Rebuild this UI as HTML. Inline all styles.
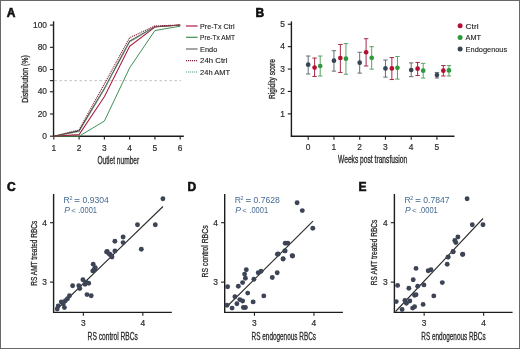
<!DOCTYPE html>
<html><head><meta charset="utf-8"><style>
html,body{margin:0;padding:0;background:#fff;}
body{width:520px;height:349px;overflow:hidden;}
.fig{position:absolute;left:0;top:0;width:520px;height:349px;box-sizing:border-box;border:1px solid #686868;background:#fff;}
svg{position:absolute;left:0;top:0;will-change:transform;}
text{font-family:"Liberation Sans", sans-serif;}
</style></head><body>
<div class="fig"></div>
<svg width="520" height="349" viewBox="0 0 520 349" font-family='"Liberation Sans", sans-serif'>
<text x="6.8" y="17.2" font-size="12" text-anchor="start" fill="#111" font-weight="bold" stroke="#111" stroke-width="0.6">A</text>
<line x1="54.50" y1="80.65" x2="181.00" y2="80.65" stroke="#b0b0b0" stroke-width="0.8" stroke-dasharray="2.4 2.6"/>
<line x1="53.55" y1="21.30" x2="53.55" y2="136.80" stroke="#1c1c1c" stroke-width="1.4" />
<line x1="52.95" y1="136.20" x2="183.80" y2="136.20" stroke="#1c1c1c" stroke-width="1.4" />
<line x1="49.95" y1="136.20" x2="53.55" y2="136.20" stroke="#1c1c1c" stroke-width="1.1" />
<line x1="49.95" y1="113.98" x2="53.55" y2="113.98" stroke="#1c1c1c" stroke-width="1.1" />
<line x1="49.95" y1="91.76" x2="53.55" y2="91.76" stroke="#1c1c1c" stroke-width="1.1" />
<line x1="49.95" y1="80.65" x2="53.55" y2="80.65" stroke="#1c1c1c" stroke-width="1.1" />
<line x1="49.95" y1="69.54" x2="53.55" y2="69.54" stroke="#1c1c1c" stroke-width="1.1" />
<line x1="49.95" y1="47.32" x2="53.55" y2="47.32" stroke="#1c1c1c" stroke-width="1.1" />
<line x1="49.95" y1="25.10" x2="53.55" y2="25.10" stroke="#1c1c1c" stroke-width="1.1" />
<text x="47.0" y="138.79999999999998" font-size="8.4" text-anchor="end" fill="#2e2e2e" stroke="#2a2a2a" stroke-width="0.2">0</text>
<text x="47.0" y="116.57999999999998" font-size="8.4" text-anchor="end" fill="#2e2e2e" stroke="#2a2a2a" stroke-width="0.2">20</text>
<text x="47.0" y="94.35999999999999" font-size="8.4" text-anchor="end" fill="#2e2e2e" stroke="#2a2a2a" stroke-width="0.2">40</text>
<text x="47.0" y="72.13999999999999" font-size="8.4" text-anchor="end" fill="#2e2e2e" stroke="#2a2a2a" stroke-width="0.2">60</text>
<text x="47.0" y="49.919999999999995" font-size="8.4" text-anchor="end" fill="#2e2e2e" stroke="#2a2a2a" stroke-width="0.2">80</text>
<text x="47.0" y="27.699999999999996" font-size="8.4" text-anchor="end" fill="#2e2e2e" stroke="#2a2a2a" stroke-width="0.2">100</text>
<line x1="53.80" y1="136.20" x2="53.80" y2="139.60" stroke="#1c1c1c" stroke-width="1.1" />
<text x="53.8" y="150.7" font-size="8.4" text-anchor="middle" fill="#2e2e2e" stroke="#2a2a2a" stroke-width="0.2">1</text>
<line x1="79.08" y1="136.20" x2="79.08" y2="139.60" stroke="#1c1c1c" stroke-width="1.1" />
<text x="79.08" y="150.7" font-size="8.4" text-anchor="middle" fill="#2e2e2e" stroke="#2a2a2a" stroke-width="0.2">2</text>
<line x1="104.36" y1="136.20" x2="104.36" y2="139.60" stroke="#1c1c1c" stroke-width="1.1" />
<text x="104.36" y="150.7" font-size="8.4" text-anchor="middle" fill="#2e2e2e" stroke="#2a2a2a" stroke-width="0.2">3</text>
<line x1="129.64" y1="136.20" x2="129.64" y2="139.60" stroke="#1c1c1c" stroke-width="1.1" />
<text x="129.64" y="150.7" font-size="8.4" text-anchor="middle" fill="#2e2e2e" stroke="#2a2a2a" stroke-width="0.2">4</text>
<line x1="154.92" y1="136.20" x2="154.92" y2="139.60" stroke="#1c1c1c" stroke-width="1.1" />
<text x="154.92000000000002" y="150.7" font-size="8.4" text-anchor="middle" fill="#2e2e2e" stroke="#2a2a2a" stroke-width="0.2">5</text>
<line x1="180.20" y1="136.20" x2="180.20" y2="139.60" stroke="#1c1c1c" stroke-width="1.1" />
<text x="180.2" y="150.7" font-size="8.4" text-anchor="middle" fill="#2e2e2e" stroke="#2a2a2a" stroke-width="0.2">6</text>
<text x="118.3" y="163.6" font-size="10.2" text-anchor="middle" fill="#2a2a2a" stroke="#2a2a2a" stroke-width="0.3" textLength="41.8" lengthAdjust="spacingAndGlyphs">Outlet number</text>
<text transform="translate(28,79) rotate(-90)" x="0" y="0" font-size="9.0" text-anchor="middle" fill="#2a2a2a" stroke="#2a2a2a" stroke-width="0.3" textLength="47.4" lengthAdjust="spacingAndGlyphs">Distribution (%)</text>
<polyline points="53.80,136.20 79.08,136.20 104.36,121.09 129.64,67.87 154.92,30.54 180.20,26.21" fill="none" stroke="#3f9050" stroke-width="1.0" stroke-linejoin="round" />
<polyline points="53.80,136.20 79.08,134.64 104.36,96.76 129.64,46.21 154.92,27.10 180.20,25.10" fill="none" stroke="#b01c45" stroke-width="1.05" stroke-linejoin="round" />
<polyline points="53.80,136.20 79.08,130.87 104.36,88.43 129.64,41.32 154.92,26.66 180.20,25.10" fill="none" stroke="#3c3c3c" stroke-width="1.05" stroke-linejoin="round" />
<polyline points="53.80,136.20 79.08,131.76 104.36,88.98 129.64,41.99 154.92,26.66 180.20,25.10" fill="none" stroke="#5a9a68" stroke-width="1.1" stroke-linejoin="round" stroke-dasharray="1.1 0.9"/>
<polyline points="53.80,136.20 79.08,129.98 104.36,83.98 129.64,37.77 154.92,25.88 180.20,25.10" fill="none" stroke="#802038" stroke-width="1.15" stroke-linejoin="round" stroke-dasharray="1.1 0.9"/>
<line x1="186.00" y1="26.00" x2="197.60" y2="26.00" stroke="#b01c45" stroke-width="1.2" />
<text x="200.1" y="28.7" font-size="7.5" text-anchor="start" fill="#222" font-weight="normal" stroke="#222" stroke-width="0.12" textLength="34.4" lengthAdjust="spacingAndGlyphs">Pre-Tx Ctrl</text>
<line x1="186.00" y1="37.30" x2="197.60" y2="37.30" stroke="#3f9050" stroke-width="1.2" />
<text x="200.1" y="40.0" font-size="7.5" text-anchor="start" fill="#222" font-weight="normal" stroke="#222" stroke-width="0.12" textLength="35.0" lengthAdjust="spacingAndGlyphs">Pre-Tx AMT</text>
<line x1="186.00" y1="49.00" x2="197.60" y2="49.00" stroke="#6a6a6a" stroke-width="1.2" />
<text x="200.1" y="51.7" font-size="7.5" text-anchor="start" fill="#222" font-weight="normal" stroke="#222" stroke-width="0.12" textLength="17.2" lengthAdjust="spacingAndGlyphs">Endo</text>
<line x1="186.00" y1="60.70" x2="197.60" y2="60.70" stroke="#802038" stroke-width="1.2" stroke-dasharray="1.1 0.9"/>
<text x="200.1" y="63.400000000000006" font-size="7.5" text-anchor="start" fill="#222" font-weight="normal" stroke="#222" stroke-width="0.12" textLength="27.3" lengthAdjust="spacingAndGlyphs">24h Ctrl</text>
<line x1="186.00" y1="72.00" x2="197.60" y2="72.00" stroke="#5a9a68" stroke-width="1.2" stroke-dasharray="1.1 0.9"/>
<text x="200.1" y="74.7" font-size="7.5" text-anchor="start" fill="#222" font-weight="normal" stroke="#222" stroke-width="0.12" textLength="30.0" lengthAdjust="spacingAndGlyphs">24h AMT</text>
<text x="255.4" y="16.6" font-size="12" text-anchor="start" fill="#111" font-weight="bold" stroke="#111" stroke-width="0.6">B</text>
<line x1="291.40" y1="21.40" x2="291.40" y2="136.90" stroke="#1c1c1c" stroke-width="1.4" />
<line x1="290.80" y1="136.30" x2="454.50" y2="136.30" stroke="#1c1c1c" stroke-width="1.4" />
<line x1="287.80" y1="113.85" x2="291.40" y2="113.85" stroke="#1c1c1c" stroke-width="1.1" />
<text x="285" y="116.55" font-size="8.4" text-anchor="end" fill="#2e2e2e" stroke="#2a2a2a" stroke-width="0.2">1</text>
<line x1="287.80" y1="91.45" x2="291.40" y2="91.45" stroke="#1c1c1c" stroke-width="1.1" />
<text x="285" y="94.15" font-size="8.4" text-anchor="end" fill="#2e2e2e" stroke="#2a2a2a" stroke-width="0.2">2</text>
<line x1="287.80" y1="69.05" x2="291.40" y2="69.05" stroke="#1c1c1c" stroke-width="1.1" />
<text x="285" y="71.75000000000001" font-size="8.4" text-anchor="end" fill="#2e2e2e" stroke="#2a2a2a" stroke-width="0.2">3</text>
<line x1="287.80" y1="46.65" x2="291.40" y2="46.65" stroke="#1c1c1c" stroke-width="1.1" />
<text x="285" y="49.35000000000001" font-size="8.4" text-anchor="end" fill="#2e2e2e" stroke="#2a2a2a" stroke-width="0.2">4</text>
<line x1="287.80" y1="24.25" x2="291.40" y2="24.25" stroke="#1c1c1c" stroke-width="1.1" />
<text x="285" y="26.95" font-size="8.4" text-anchor="end" fill="#2e2e2e" stroke="#2a2a2a" stroke-width="0.2">5</text>
<line x1="308.20" y1="136.30" x2="308.20" y2="139.70" stroke="#1c1c1c" stroke-width="1.1" />
<text x="308.2" y="149.5" font-size="8.4" text-anchor="middle" fill="#2e2e2e" stroke="#2a2a2a" stroke-width="0.2">0</text>
<line x1="333.95" y1="136.30" x2="333.95" y2="139.70" stroke="#1c1c1c" stroke-width="1.1" />
<text x="333.95" y="149.5" font-size="8.4" text-anchor="middle" fill="#2e2e2e" stroke="#2a2a2a" stroke-width="0.2">1</text>
<line x1="359.70" y1="136.30" x2="359.70" y2="139.70" stroke="#1c1c1c" stroke-width="1.1" />
<text x="359.7" y="149.5" font-size="8.4" text-anchor="middle" fill="#2e2e2e" stroke="#2a2a2a" stroke-width="0.2">2</text>
<line x1="385.45" y1="136.30" x2="385.45" y2="139.70" stroke="#1c1c1c" stroke-width="1.1" />
<text x="385.45" y="149.5" font-size="8.4" text-anchor="middle" fill="#2e2e2e" stroke="#2a2a2a" stroke-width="0.2">3</text>
<line x1="411.20" y1="136.30" x2="411.20" y2="139.70" stroke="#1c1c1c" stroke-width="1.1" />
<text x="411.2" y="149.5" font-size="8.4" text-anchor="middle" fill="#2e2e2e" stroke="#2a2a2a" stroke-width="0.2">4</text>
<line x1="436.95" y1="136.30" x2="436.95" y2="139.70" stroke="#1c1c1c" stroke-width="1.1" />
<text x="436.95" y="149.5" font-size="8.4" text-anchor="middle" fill="#2e2e2e" stroke="#2a2a2a" stroke-width="0.2">5</text>
<text x="372.6" y="162.6" font-size="10.0" text-anchor="middle" fill="#2a2a2a" stroke="#2a2a2a" stroke-width="0.3" textLength="69.2" lengthAdjust="spacingAndGlyphs">Weeks post transfusion</text>
<text transform="translate(275.2,79) rotate(-90)" x="0" y="0" font-size="9.0" text-anchor="middle" fill="#2a2a2a" stroke="#2a2a2a" stroke-width="0.3" textLength="40" lengthAdjust="spacingAndGlyphs">Rigidity score</text>
<line x1="308.20" y1="56.02" x2="308.20" y2="74.01" stroke="#646d78" stroke-width="1.0" />
<line x1="306.00" y1="56.02" x2="310.40" y2="56.02" stroke="#646d78" stroke-width="1.0" />
<line x1="306.00" y1="74.01" x2="310.40" y2="74.01" stroke="#646d78" stroke-width="1.0" />
<circle cx="308.20" cy="64.68" r="2.35" fill="#364656"/>
<line x1="314.60" y1="58.02" x2="314.60" y2="76.45" stroke="#a8284a" stroke-width="1.0" />
<line x1="312.40" y1="58.02" x2="316.80" y2="58.02" stroke="#a8284a" stroke-width="1.0" />
<line x1="312.40" y1="76.45" x2="316.80" y2="76.45" stroke="#a8284a" stroke-width="1.0" />
<circle cx="314.60" cy="67.57" r="2.35" fill="#b50f33"/>
<line x1="320.20" y1="56.02" x2="320.20" y2="76.00" stroke="#58a262" stroke-width="1.0" />
<line x1="318.00" y1="56.02" x2="322.40" y2="56.02" stroke="#58a262" stroke-width="1.0" />
<line x1="318.00" y1="76.00" x2="322.40" y2="76.00" stroke="#58a262" stroke-width="1.0" />
<circle cx="320.20" cy="66.01" r="2.35" fill="#2f983c"/>
<line x1="333.95" y1="50.70" x2="333.95" y2="71.12" stroke="#646d78" stroke-width="1.0" />
<line x1="331.75" y1="50.70" x2="336.15" y2="50.70" stroke="#646d78" stroke-width="1.0" />
<line x1="331.75" y1="71.12" x2="336.15" y2="71.12" stroke="#646d78" stroke-width="1.0" />
<circle cx="333.95" cy="60.69" r="2.35" fill="#364656"/>
<line x1="340.35" y1="44.48" x2="340.35" y2="72.45" stroke="#a8284a" stroke-width="1.0" />
<line x1="338.15" y1="44.48" x2="342.55" y2="44.48" stroke="#a8284a" stroke-width="1.0" />
<line x1="338.15" y1="72.45" x2="342.55" y2="72.45" stroke="#a8284a" stroke-width="1.0" />
<circle cx="340.35" cy="58.02" r="2.35" fill="#b50f33"/>
<line x1="345.95" y1="43.59" x2="345.95" y2="74.23" stroke="#58a262" stroke-width="1.0" />
<line x1="343.75" y1="43.59" x2="348.15" y2="43.59" stroke="#58a262" stroke-width="1.0" />
<line x1="343.75" y1="74.23" x2="348.15" y2="74.23" stroke="#58a262" stroke-width="1.0" />
<circle cx="345.95" cy="58.69" r="2.35" fill="#2f983c"/>
<line x1="359.70" y1="52.25" x2="359.70" y2="73.12" stroke="#646d78" stroke-width="1.0" />
<line x1="357.50" y1="52.25" x2="361.90" y2="52.25" stroke="#646d78" stroke-width="1.0" />
<line x1="357.50" y1="73.12" x2="361.90" y2="73.12" stroke="#646d78" stroke-width="1.0" />
<circle cx="359.70" cy="62.68" r="2.35" fill="#364656"/>
<line x1="366.10" y1="38.71" x2="366.10" y2="66.01" stroke="#a8284a" stroke-width="1.0" />
<line x1="363.90" y1="38.71" x2="368.30" y2="38.71" stroke="#a8284a" stroke-width="1.0" />
<line x1="363.90" y1="66.01" x2="368.30" y2="66.01" stroke="#a8284a" stroke-width="1.0" />
<circle cx="366.10" cy="52.25" r="2.35" fill="#b50f33"/>
<line x1="371.70" y1="46.70" x2="371.70" y2="69.12" stroke="#58a262" stroke-width="1.0" />
<line x1="369.50" y1="46.70" x2="373.90" y2="46.70" stroke="#58a262" stroke-width="1.0" />
<line x1="369.50" y1="69.12" x2="373.90" y2="69.12" stroke="#58a262" stroke-width="1.0" />
<circle cx="371.70" cy="57.80" r="2.35" fill="#2f983c"/>
<line x1="385.45" y1="60.02" x2="385.45" y2="77.11" stroke="#646d78" stroke-width="1.0" />
<line x1="383.25" y1="60.02" x2="387.65" y2="60.02" stroke="#646d78" stroke-width="1.0" />
<line x1="383.25" y1="77.11" x2="387.65" y2="77.11" stroke="#646d78" stroke-width="1.0" />
<circle cx="385.45" cy="68.46" r="2.35" fill="#364656"/>
<line x1="391.85" y1="57.58" x2="391.85" y2="79.56" stroke="#a8284a" stroke-width="1.0" />
<line x1="389.65" y1="57.58" x2="394.05" y2="57.58" stroke="#a8284a" stroke-width="1.0" />
<line x1="389.65" y1="79.56" x2="394.05" y2="79.56" stroke="#a8284a" stroke-width="1.0" />
<circle cx="391.85" cy="68.46" r="2.35" fill="#b50f33"/>
<line x1="397.45" y1="56.47" x2="397.45" y2="79.11" stroke="#58a262" stroke-width="1.0" />
<line x1="395.25" y1="56.47" x2="399.65" y2="56.47" stroke="#58a262" stroke-width="1.0" />
<line x1="395.25" y1="79.11" x2="399.65" y2="79.11" stroke="#58a262" stroke-width="1.0" />
<circle cx="397.45" cy="67.79" r="2.35" fill="#2f983c"/>
<line x1="411.20" y1="62.91" x2="411.20" y2="76.67" stroke="#646d78" stroke-width="1.0" />
<line x1="409.00" y1="62.91" x2="413.40" y2="62.91" stroke="#646d78" stroke-width="1.0" />
<line x1="409.00" y1="76.67" x2="413.40" y2="76.67" stroke="#646d78" stroke-width="1.0" />
<circle cx="411.20" cy="70.01" r="2.35" fill="#364656"/>
<line x1="417.60" y1="62.46" x2="417.60" y2="75.56" stroke="#a8284a" stroke-width="1.0" />
<line x1="415.40" y1="62.46" x2="419.80" y2="62.46" stroke="#a8284a" stroke-width="1.0" />
<line x1="415.40" y1="75.56" x2="419.80" y2="75.56" stroke="#a8284a" stroke-width="1.0" />
<circle cx="417.60" cy="68.68" r="2.35" fill="#b50f33"/>
<line x1="423.20" y1="63.35" x2="423.20" y2="78.00" stroke="#58a262" stroke-width="1.0" />
<line x1="421.00" y1="63.35" x2="425.40" y2="63.35" stroke="#58a262" stroke-width="1.0" />
<line x1="421.00" y1="78.00" x2="425.40" y2="78.00" stroke="#58a262" stroke-width="1.0" />
<circle cx="423.20" cy="70.68" r="2.35" fill="#2f983c"/>
<line x1="436.95" y1="72.45" x2="436.95" y2="78.00" stroke="#646d78" stroke-width="1.0" />
<line x1="434.75" y1="72.45" x2="439.15" y2="72.45" stroke="#646d78" stroke-width="1.0" />
<line x1="434.75" y1="78.00" x2="439.15" y2="78.00" stroke="#646d78" stroke-width="1.0" />
<circle cx="436.95" cy="75.12" r="2.35" fill="#364656"/>
<line x1="443.35" y1="65.57" x2="443.35" y2="76.00" stroke="#a8284a" stroke-width="1.0" />
<line x1="441.15" y1="65.57" x2="445.55" y2="65.57" stroke="#a8284a" stroke-width="1.0" />
<line x1="441.15" y1="76.00" x2="445.55" y2="76.00" stroke="#a8284a" stroke-width="1.0" />
<circle cx="443.35" cy="70.68" r="2.35" fill="#b50f33"/>
<line x1="448.95" y1="65.57" x2="448.95" y2="76.00" stroke="#58a262" stroke-width="1.0" />
<line x1="446.75" y1="65.57" x2="451.15" y2="65.57" stroke="#58a262" stroke-width="1.0" />
<line x1="446.75" y1="76.00" x2="451.15" y2="76.00" stroke="#58a262" stroke-width="1.0" />
<circle cx="448.95" cy="70.45" r="2.35" fill="#2f983c"/>
<circle cx="460.1" cy="25.8" r="2.5" fill="#b50f33"/>
<text x="465.6" y="28.5" font-size="7.5" text-anchor="start" fill="#222" font-weight="normal" stroke="#222" stroke-width="0.12" textLength="12.9" lengthAdjust="spacingAndGlyphs">Ctrl</text>
<circle cx="460.1" cy="37.4" r="2.5" fill="#2f983c"/>
<text x="465.6" y="40.1" font-size="7.5" text-anchor="start" fill="#222" font-weight="normal" stroke="#222" stroke-width="0.12" textLength="15.4" lengthAdjust="spacingAndGlyphs">AMT</text>
<circle cx="460.1" cy="49.0" r="2.5" fill="#364656"/>
<text x="465.6" y="51.7" font-size="7.5" text-anchor="start" fill="#222" font-weight="normal" stroke="#222" stroke-width="0.12" textLength="41.6" lengthAdjust="spacingAndGlyphs">Endogenous</text>
<text x="6.9" y="190.8" font-size="12" text-anchor="start" fill="#111" font-weight="bold" stroke="#111" stroke-width="0.6">C</text>
<line x1="53.60" y1="194.00" x2="53.60" y2="313.00" stroke="#1c1c1c" stroke-width="1.4" />
<line x1="53.00" y1="312.40" x2="171.80" y2="312.40" stroke="#1c1c1c" stroke-width="1.4" />
<line x1="50.00" y1="282.10" x2="53.60" y2="282.10" stroke="#1c1c1c" stroke-width="1.1" />
<text x="46.800000000000004" y="284.90000000000003" font-size="8.4" text-anchor="end" fill="#2e2e2e" stroke="#2a2a2a" stroke-width="0.2">3</text>
<line x1="83.35" y1="312.40" x2="83.35" y2="315.80" stroke="#1c1c1c" stroke-width="1.1" />
<text x="83.35" y="325.9" font-size="8.4" text-anchor="middle" fill="#2e2e2e" stroke="#2a2a2a" stroke-width="0.2">3</text>
<line x1="50.00" y1="222.70" x2="53.60" y2="222.70" stroke="#1c1c1c" stroke-width="1.1" />
<text x="46.800000000000004" y="225.50000000000003" font-size="8.4" text-anchor="end" fill="#2e2e2e" stroke="#2a2a2a" stroke-width="0.2">4</text>
<line x1="142.85" y1="312.40" x2="142.85" y2="315.80" stroke="#1c1c1c" stroke-width="1.1" />
<text x="142.85" y="325.9" font-size="8.4" text-anchor="middle" fill="#2e2e2e" stroke="#2a2a2a" stroke-width="0.2">4</text>
<text x="112.7" y="339.6" font-size="10.2" text-anchor="middle" fill="#2a2a2a" stroke="#2a2a2a" stroke-width="0.3" textLength="50.2" lengthAdjust="spacingAndGlyphs">RS control RBCs</text>
<text transform="translate(36.6,253.2) rotate(-90)" x="0" y="0" font-size="9.8" text-anchor="middle" fill="#2a2a2a" stroke="#2a2a2a" stroke-width="0.3" textLength="65" lengthAdjust="spacingAndGlyphs">RS AMT treated RBCs</text>
<text y="202.9" font-size="8.6" fill="#466a92"><tspan x="63.6">R</tspan><tspan x="69.5" font-size="5.4" dy="-3.3">2</tspan><tspan x="74.6" dy="3.3" stroke="#466a92" stroke-width="0.4">=</tspan><tspan x="82.5">0.9304</tspan></text>
<text x="64.2" y="212.5" font-size="8.6" font-style="italic" fill="#466a92">P</text>
<text x="71.2" y="212.5" font-size="8.0" fill="#466a92">&lt;</text>
<text x="78.2" y="212.5" font-size="8.6" fill="#466a92" textLength="18.8" lengthAdjust="spacingAndGlyphs">.0001</text>
<line x1="56.00" y1="310.00" x2="163.00" y2="206.50" stroke="#2a2a2a" stroke-width="1.1" />
<circle cx="106.6" cy="252.0" r="2.45" fill="#3c4456"/>
<circle cx="110.4" cy="254.8" r="2.45" fill="#3c4456"/>
<circle cx="93.2" cy="264.3" r="2.45" fill="#3c4456"/>
<circle cx="95.3" cy="267.8" r="2.45" fill="#3c4456"/>
<circle cx="92.8" cy="270.9" r="2.45" fill="#3c4456"/>
<circle cx="94.3" cy="269.3" r="2.45" fill="#3c4456"/>
<circle cx="82.9" cy="279.8" r="2.45" fill="#3c4456"/>
<circle cx="86.0" cy="282.3" r="2.45" fill="#3c4456"/>
<circle cx="88.7" cy="283.3" r="2.45" fill="#3c4456"/>
<circle cx="85.0" cy="284.3" r="2.45" fill="#3c4456"/>
<circle cx="78.8" cy="285.8" r="2.45" fill="#3c4456"/>
<circle cx="79.8" cy="288.5" r="2.45" fill="#3c4456"/>
<circle cx="72.6" cy="285.8" r="2.45" fill="#3c4456"/>
<circle cx="87.0" cy="294.6" r="2.45" fill="#3c4456"/>
<circle cx="91.2" cy="295.7" r="2.45" fill="#3c4456"/>
<circle cx="69.5" cy="295.7" r="2.45" fill="#3c4456"/>
<circle cx="67.5" cy="298.8" r="2.45" fill="#3c4456"/>
<circle cx="65.4" cy="300.8" r="2.45" fill="#3c4456"/>
<circle cx="61.3" cy="301.9" r="2.45" fill="#3c4456"/>
<circle cx="63.3" cy="303.9" r="2.45" fill="#3c4456"/>
<circle cx="64.4" cy="307.6" r="2.45" fill="#3c4456"/>
<circle cx="58.2" cy="306.0" r="2.45" fill="#3c4456"/>
<circle cx="57.2" cy="309.0" r="2.45" fill="#3c4456"/>
<circle cx="162.9" cy="198.7" r="2.45" fill="#3c4456"/>
<circle cx="137.5" cy="224.7" r="2.45" fill="#3c4456"/>
<circle cx="155.3" cy="224.7" r="2.45" fill="#3c4456"/>
<circle cx="123.1" cy="237.0" r="2.45" fill="#3c4456"/>
<circle cx="114.9" cy="241.2" r="2.45" fill="#3c4456"/>
<circle cx="123.1" cy="242.6" r="2.45" fill="#3c4456"/>
<circle cx="141.3" cy="249.2" r="2.45" fill="#3c4456"/>
<circle cx="114.9" cy="250.9" r="2.45" fill="#3c4456"/>
<circle cx="107.2" cy="251.5" r="2.45" fill="#3c4456"/>
<circle cx="109.3" cy="254.0" r="2.45" fill="#3c4456"/>
<circle cx="112.0" cy="257.0" r="2.45" fill="#3c4456"/>
<text x="187.4" y="190.8" font-size="12" text-anchor="start" fill="#111" font-weight="bold" stroke="#111" stroke-width="0.6">D</text>
<line x1="224.70" y1="194.00" x2="224.70" y2="313.00" stroke="#1c1c1c" stroke-width="1.4" />
<line x1="224.10" y1="312.40" x2="342.90" y2="312.40" stroke="#1c1c1c" stroke-width="1.4" />
<line x1="221.10" y1="282.10" x2="224.70" y2="282.10" stroke="#1c1c1c" stroke-width="1.1" />
<text x="217.89999999999998" y="284.90000000000003" font-size="8.4" text-anchor="end" fill="#2e2e2e" stroke="#2a2a2a" stroke-width="0.2">3</text>
<line x1="254.45" y1="312.40" x2="254.45" y2="315.80" stroke="#1c1c1c" stroke-width="1.1" />
<text x="254.45" y="325.9" font-size="8.4" text-anchor="middle" fill="#2e2e2e" stroke="#2a2a2a" stroke-width="0.2">3</text>
<line x1="221.10" y1="222.70" x2="224.70" y2="222.70" stroke="#1c1c1c" stroke-width="1.1" />
<text x="217.89999999999998" y="225.50000000000003" font-size="8.4" text-anchor="end" fill="#2e2e2e" stroke="#2a2a2a" stroke-width="0.2">4</text>
<line x1="313.95" y1="312.40" x2="313.95" y2="315.80" stroke="#1c1c1c" stroke-width="1.1" />
<text x="313.95" y="325.9" font-size="8.4" text-anchor="middle" fill="#2e2e2e" stroke="#2a2a2a" stroke-width="0.2">4</text>
<text x="283.8" y="339.6" font-size="10.2" text-anchor="middle" fill="#2a2a2a" stroke="#2a2a2a" stroke-width="0.3" textLength="64.4" lengthAdjust="spacingAndGlyphs">RS endogenous RBCs</text>
<text transform="translate(207.7,251.4) rotate(-90)" x="0" y="0" font-size="9.8" text-anchor="middle" fill="#2a2a2a" stroke="#2a2a2a" stroke-width="0.3" textLength="52" lengthAdjust="spacingAndGlyphs">RS control RBCs</text>
<text y="202.9" font-size="8.6" fill="#466a92"><tspan x="234.7">R</tspan><tspan x="240.6" font-size="5.4" dy="-3.3">2</tspan><tspan x="245.7" dy="3.3" stroke="#466a92" stroke-width="0.4">=</tspan><tspan x="253.6">0.7628</tspan></text>
<text x="235.29999999999998" y="212.5" font-size="8.6" font-style="italic" fill="#466a92">P</text>
<text x="242.29999999999998" y="212.5" font-size="8.0" fill="#466a92">&lt;</text>
<text x="249.29999999999998" y="212.5" font-size="8.6" fill="#466a92" textLength="18.8" lengthAdjust="spacingAndGlyphs">.0001</text>
<line x1="227.00" y1="306.50" x2="313.00" y2="221.20" stroke="#2a2a2a" stroke-width="1.1" />
<circle cx="227.6" cy="286.8" r="2.45" fill="#3c4456"/>
<circle cx="238.3" cy="286.3" r="2.45" fill="#3c4456"/>
<circle cx="242.6" cy="282.6" r="2.45" fill="#3c4456"/>
<circle cx="245.4" cy="278.3" r="2.45" fill="#3c4456"/>
<circle cx="246.3" cy="269.8" r="2.45" fill="#3c4456"/>
<circle cx="244.6" cy="274.1" r="2.45" fill="#3c4456"/>
<circle cx="253.9" cy="279.2" r="2.45" fill="#3c4456"/>
<circle cx="258.2" cy="272.7" r="2.45" fill="#3c4456"/>
<circle cx="261.0" cy="271.3" r="2.45" fill="#3c4456"/>
<circle cx="272.3" cy="277.5" r="2.45" fill="#3c4456"/>
<circle cx="277.2" cy="272.7" r="2.45" fill="#3c4456"/>
<circle cx="277.4" cy="254.3" r="2.45" fill="#3c4456"/>
<circle cx="283.1" cy="259.1" r="2.45" fill="#3c4456"/>
<circle cx="292.2" cy="255.7" r="2.45" fill="#3c4456"/>
<circle cx="285.1" cy="250.9" r="2.45" fill="#3c4456"/>
<circle cx="234.9" cy="296.8" r="2.45" fill="#3c4456"/>
<circle cx="247.7" cy="293.1" r="2.45" fill="#3c4456"/>
<circle cx="263.8" cy="295.9" r="2.45" fill="#3c4456"/>
<circle cx="227.0" cy="305.3" r="2.45" fill="#3c4456"/>
<circle cx="232.1" cy="308.1" r="2.45" fill="#3c4456"/>
<circle cx="236.9" cy="303.8" r="2.45" fill="#3c4456"/>
<circle cx="239.8" cy="299.6" r="2.45" fill="#3c4456"/>
<circle cx="242.6" cy="301.0" r="2.45" fill="#3c4456"/>
<circle cx="243.4" cy="307.5" r="2.45" fill="#3c4456"/>
<circle cx="245.4" cy="307.5" r="2.45" fill="#3c4456"/>
<circle cx="253.1" cy="301.9" r="2.45" fill="#3c4456"/>
<circle cx="297.1" cy="202.8" r="2.45" fill="#3c4456"/>
<circle cx="302.3" cy="210.6" r="2.45" fill="#3c4456"/>
<circle cx="312.8" cy="228.2" r="2.45" fill="#3c4456"/>
<circle cx="285.2" cy="243.2" r="2.45" fill="#3c4456"/>
<circle cx="287.9" cy="243.2" r="2.45" fill="#3c4456"/>
<circle cx="284.8" cy="250.9" r="2.45" fill="#3c4456"/>
<circle cx="278.2" cy="254.0" r="2.45" fill="#3c4456"/>
<circle cx="283.1" cy="258.7" r="2.45" fill="#3c4456"/>
<circle cx="292.6" cy="256.0" r="2.45" fill="#3c4456"/>
<text x="358.4" y="190.8" font-size="12" text-anchor="start" fill="#111" font-weight="bold" stroke="#111" stroke-width="0.6">E</text>
<line x1="394.40" y1="194.00" x2="394.40" y2="313.00" stroke="#1c1c1c" stroke-width="1.4" />
<line x1="393.80" y1="312.40" x2="512.60" y2="312.40" stroke="#1c1c1c" stroke-width="1.4" />
<line x1="390.80" y1="282.10" x2="394.40" y2="282.10" stroke="#1c1c1c" stroke-width="1.1" />
<text x="387.6" y="284.90000000000003" font-size="8.4" text-anchor="end" fill="#2e2e2e" stroke="#2a2a2a" stroke-width="0.2">3</text>
<line x1="424.15" y1="312.40" x2="424.15" y2="315.80" stroke="#1c1c1c" stroke-width="1.1" />
<text x="424.15000000000003" y="325.9" font-size="8.4" text-anchor="middle" fill="#2e2e2e" stroke="#2a2a2a" stroke-width="0.2">3</text>
<line x1="390.80" y1="222.70" x2="394.40" y2="222.70" stroke="#1c1c1c" stroke-width="1.1" />
<text x="387.6" y="225.50000000000003" font-size="8.4" text-anchor="end" fill="#2e2e2e" stroke="#2a2a2a" stroke-width="0.2">4</text>
<line x1="483.65" y1="312.40" x2="483.65" y2="315.80" stroke="#1c1c1c" stroke-width="1.1" />
<text x="483.65000000000003" y="325.9" font-size="8.4" text-anchor="middle" fill="#2e2e2e" stroke="#2a2a2a" stroke-width="0.2">4</text>
<text x="453.50000000000006" y="339.6" font-size="10.2" text-anchor="middle" fill="#2a2a2a" stroke="#2a2a2a" stroke-width="0.3" textLength="64.4" lengthAdjust="spacingAndGlyphs">RS endogenous RBCs</text>
<text transform="translate(377.40000000000003,252.4) rotate(-90)" x="0" y="0" font-size="9.8" text-anchor="middle" fill="#2a2a2a" stroke="#2a2a2a" stroke-width="0.3" textLength="65.5" lengthAdjust="spacingAndGlyphs">RS AMT treated RBCs</text>
<text y="202.9" font-size="8.6" fill="#466a92"><tspan x="404.40000000000003">R</tspan><tspan x="410.3" font-size="5.4" dy="-3.3">2</tspan><tspan x="415.40000000000003" dy="3.3" stroke="#466a92" stroke-width="0.4">=</tspan><tspan x="423.3">0.7847</tspan></text>
<text x="405.00000000000006" y="212.5" font-size="8.6" font-style="italic" fill="#466a92">P</text>
<text x="412.00000000000006" y="212.5" font-size="8.0" fill="#466a92">&lt;</text>
<text x="419.00000000000006" y="212.5" font-size="8.6" fill="#466a92" textLength="18.8" lengthAdjust="spacingAndGlyphs">.0001</text>
<line x1="395.60" y1="311.50" x2="483.00" y2="218.50" stroke="#2a2a2a" stroke-width="1.1" />
<circle cx="397.6" cy="285.4" r="2.45" fill="#3c4456"/>
<circle cx="408.9" cy="288.3" r="2.45" fill="#3c4456"/>
<circle cx="413.2" cy="279.8" r="2.45" fill="#3c4456"/>
<circle cx="416.0" cy="268.4" r="2.45" fill="#3c4456"/>
<circle cx="417.7" cy="286.3" r="2.45" fill="#3c4456"/>
<circle cx="423.9" cy="284.9" r="2.45" fill="#3c4456"/>
<circle cx="428.2" cy="270.7" r="2.45" fill="#3c4456"/>
<circle cx="431.0" cy="269.8" r="2.45" fill="#3c4456"/>
<circle cx="442.3" cy="282.6" r="2.45" fill="#3c4456"/>
<circle cx="447.2" cy="264.2" r="2.45" fill="#3c4456"/>
<circle cx="448.0" cy="257.1" r="2.45" fill="#3c4456"/>
<circle cx="453.1" cy="251.4" r="2.45" fill="#3c4456"/>
<circle cx="462.7" cy="254.3" r="2.45" fill="#3c4456"/>
<circle cx="404.9" cy="300.4" r="2.45" fill="#3c4456"/>
<circle cx="406.4" cy="303.3" r="2.45" fill="#3c4456"/>
<circle cx="409.8" cy="301.0" r="2.45" fill="#3c4456"/>
<circle cx="414.6" cy="295.3" r="2.45" fill="#3c4456"/>
<circle cx="416.0" cy="294.8" r="2.45" fill="#3c4456"/>
<circle cx="433.8" cy="295.9" r="2.45" fill="#3c4456"/>
<circle cx="396.2" cy="301.6" r="2.45" fill="#3c4456"/>
<circle cx="402.1" cy="309.5" r="2.45" fill="#3c4456"/>
<circle cx="412.6" cy="308.1" r="2.45" fill="#3c4456"/>
<circle cx="414.6" cy="306.7" r="2.45" fill="#3c4456"/>
<circle cx="423.1" cy="304.4" r="2.45" fill="#3c4456"/>
<circle cx="467.1" cy="198.7" r="2.45" fill="#3c4456"/>
<circle cx="472.3" cy="224.7" r="2.45" fill="#3c4456"/>
<circle cx="483.0" cy="224.7" r="2.45" fill="#3c4456"/>
<circle cx="457.9" cy="237.0" r="2.45" fill="#3c4456"/>
<circle cx="454.8" cy="240.5" r="2.45" fill="#3c4456"/>
<circle cx="455.8" cy="242.6" r="2.45" fill="#3c4456"/>
<circle cx="453.1" cy="251.9" r="2.45" fill="#3c4456"/>
<circle cx="448.2" cy="257.1" r="2.45" fill="#3c4456"/>
<circle cx="462.6" cy="254.4" r="2.45" fill="#3c4456"/>
</svg>
</body></html>
